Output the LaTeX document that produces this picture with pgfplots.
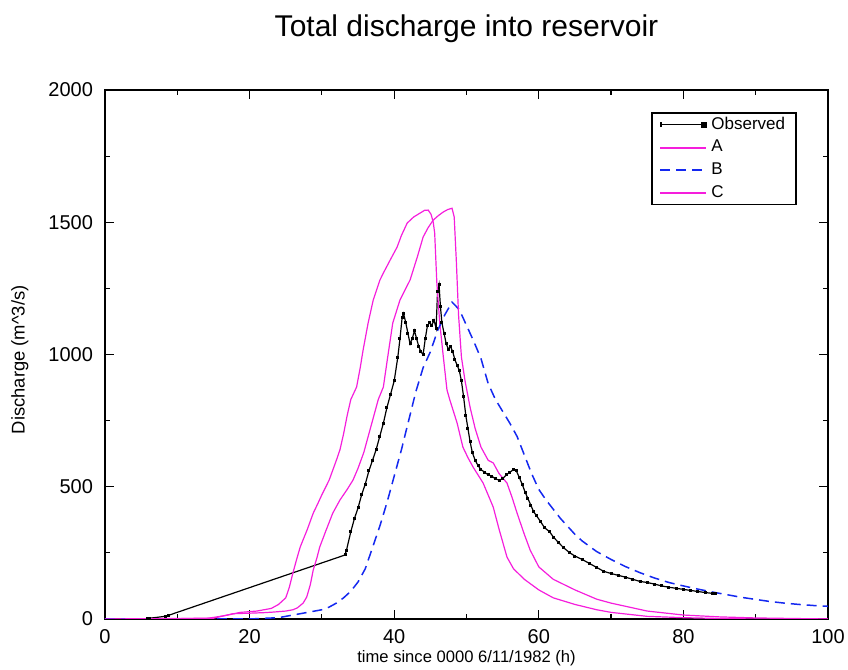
\documentclass[border=0pt]{standalone}
\usepackage{fontspec}
\setmainfont{Liberation Sans}
\usepackage{pgfplots}
\pgfplotsset{compat=1.18}
\definecolor{gpmag}{RGB}{245,30,220}
\definecolor{gpblue}{RGB}{20,40,240}

\begin{document}
\begin{tikzpicture}
\begin{axis}[
  at={(0pt,0pt)}, anchor=south west,
  scale only axis, width=361.5pt, height=264.5pt,
  xmin=0, xmax=100, ymin=0, ymax=2000,
  xtick={0,20,...,100}, minor xtick={10,30,...,90},
  ytick={0,500,...,2000}, minor ytick={250,750,...,1750},
  tick align=inside, major tick length=4.5pt, minor tick length=2.5pt,
  every tick/.style={black, line width=0.6pt},
  axis line style={line width=0.75pt},
  ticklabel style={font=\fontsize{10}{11}\selectfont},
  xticklabel style={yshift=-1.5pt},
  yticklabel style={xshift=-2.5pt},
  /pgf/number format/assume math mode=true,
  /pgf/number format/1000 sep={},
  title={Total discharge into reservoir},
  title style={font=\fontsize{15}{17}\selectfont, at={(axis description cs:0.5,1.0925)}, anchor=center},
  xlabel={time since 0000 6/11/1982 (h)},
  xlabel style={font=\fontsize{8.3}{10}\selectfont, at={(axis description cs:0.5,-0.074)}, anchor=center},
  ylabel={Discharge (m\^{}3/s)},
  ylabel style={font=\fontsize{9.2}{11}\selectfont, at={(axis description cs:-0.1176,0.49)}, anchor=center},
  legend style={at={(0.957,0.958)}, anchor=north east, draw=black, line width=0.75pt,
    font=\fontsize{8.5}{9.5}\selectfont, row sep=0pt, inner xsep=3.5pt, inner ysep=0pt},
  legend cell align=left,
]
% Observed
\addplot[black, line width=0.6pt, mark=square*, mark size=0.45pt,
  legend image code/.code={
    \draw[draw=black,line width=0.6pt] (0pt,0pt) -- (22pt,0pt);
    \fill[fill=black] (21pt,-1.2pt) rectangle (23.4pt,1.2pt);
    \draw[draw=black,line width=0.9pt] (0.3pt,-1.3pt) -- (0.3pt,1.3pt);}]
  coordinates {
  (5.9,0) (6.2,3) (8.3,10) (8.8,14) (33.2,242)
  (33.4,260) (34,330) (34.5,380) (35,420) (35.5,470) (36,510) (36.5,560)
  (37,600) (37.5,640) (38,690) (38.5,740) (39,800) (39.5,850) (40,900)
  (40.5,990) (40.8,1060) (41.1,1140) (41.3,1155) (41.6,1120) (41.9,1080)
  (42.2,1040) (42.5,1060) (42.8,1090) (43.1,1060) (43.4,1030) (43.7,1010)
  (44,1000) (44.3,1060) (44.6,1110) (44.9,1120) (45.2,1110) (45.5,1130)
  (45.8,1100) (46,1240) (46.2,1265) (46.4,1180) (46.6,1120) (46.9,1080)
  (47.2,1040) (47.5,1020) (47.8,1030) (48.1,1010) (48.4,980) (48.7,960)
  (49,940) (49.3,900) (49.6,840) (49.9,770) (50.2,720) (50.5,670)
  (50.8,630) (51.2,600) (51.6,580) (52,565) (52.5,555) (53,545) (53.5,540)
  (54,530) (54.5,525) (55,530) (55.5,545) (56,555) (56.5,565) (56.9,560)
  (57.3,535) (57.7,510) (58.1,480) (58.5,455) (58.9,430) (59.3,405)
  (59.7,390) (60.2,370) (60.8,345) (61.5,330) (62,310) (62.7,290)
  (63.4,270) (64.3,250) (65,238) (66,225) (67,210) (68,195) (69,180)
  (70,172) (71,165) (72,158) (73,150) (74,142) (75,138) (76,132) (77,125)
  (78,120) (79,116) (80,112) (81,108) (82,104) (83,100) (84,97) (84.5,95)
};
\addlegendentry{Observed}
% A
\addplot[gpmag, line width=0.6pt,
  legend image code/.code={\draw[draw=gpmag,line width=1pt] (0pt,0pt) -- (23pt,0pt);}]
  coordinates {
  (0,0) (14,2) (15.5,8) (17,15) (18.7,25) (21,30) (23,40) (24,55) (25,80)
  (25.5,120) (26,175) (26.5,225) (27,272) (28,340) (28.8,400) (29.5,440)
  (30,470) (31,525) (32,600) (32.5,640) (33,700) (33.5,770) (34,830)
  (34.8,877) (35.3,950) (35.7,1017) (36.4,1120) (37.1,1206) (38,1280)
  (38.5,1308) (39.5,1360) (40.4,1406) (41,1450) (41.8,1497) (42.7,1520)
  (43.6,1535) (44.2,1545) (44.7,1546) (45.1,1530) (45.4,1500) (45.6,1459)
  (45.9,1270) (46.3,1120) (46.8,990) (47.3,866) (47.7,828) (48.7,741)
  (49.5,650) (50.2,610) (50.9,575) (52.3,514) (53.7,423) (54.5,340)
  (55.6,234) (56.5,190) (58,150) (60,110) (62,80) (65,55) (68,35) (70,25)
  (75,10) (80,5) (85,2) (90,0) (100,0)
};
\addlegendentry{A}
% B
\addplot[gpblue, line width=0.75pt, dash pattern=on 5pt off 3pt,
  legend image code/.code={\draw[draw=gpblue,line width=0.9pt,dash pattern=on 5pt off 3pt] (0pt,0pt) -- (23pt,0pt);}]
  coordinates {
  (0,0) (20,0) (24,5) (27,20) (29,30) (30,35) (31,45) (32,60) (33,80)
  (34,105) (35,140) (36,190) (37,270) (38,350) (39,440) (40,540) (41,640)
  (42,750) (43,860) (44,950) (45,1010) (46,1090) (47,1150) (48,1198)
  (49,1170) (50,1110) (51,1050) (52,985) (53,890) (54,830) (55,785)
  (56,740) (57,690) (58,620) (59,550) (60,490) (61,450) (62,415) (63,380)
  (64,350) (65,320) (66,295) (67,275) (68,255) (69,240) (70,225) (72,198)
  (74,175) (76,155) (78,138) (80,125) (82,113) (84,102) (86,92) (88,82)
  (90,74) (92,66) (94,60) (96,55) (98,51) (100,48)
};
\addlegendentry{B}
% C
\addplot[gpmag, line width=0.6pt,
  legend image code/.code={\draw[draw=gpmag,line width=1pt] (0pt,0pt) -- (23pt,0pt);}]
  coordinates {
  (0,0) (15,3) (17.7,20) (20,22) (22,24) (23.2,26) (25,30) (26,35)
  (26.6,42) (27.4,60) (27.9,83) (28.4,130) (28.8,185) (29.3,230)
  (29.7,272) (30.5,330) (31.5,400) (32.5,450) (33.5,490) (34.3,525)
  (35,570) (35.8,630) (36.5,700) (37.2,770) (37.8,830) (38.5,877)
  (39.1,990) (39.8,1119) (40.8,1206) (42.2,1282) (43.2,1369) (44,1444)
  (44.7,1480) (45.4,1508) (46.1,1525) (46.8,1539) (47.4,1548) (48,1553)
  (48.3,1520) (48.6,1350) (48.9,1150) (49.3,990) (49.8,900) (50.5,800)
  (51.2,720) (52,650) (53,600) (53.7,590) (54.5,550) (55.6,514)
  (56.3,460) (57,400) (58,320) (58.8,261) (60,197) (62,150) (65,110)
  (68,75) (70,60) (75,30) (80,15) (85,8) (90,4) (95,2) (100,0)
};
\addlegendentry{C}
\end{axis}
\pgfresetboundingbox
\path (-52.5pt,-25.5pt) rectangle (371.5pt,309.5pt);
\end{tikzpicture}
\end{document}
